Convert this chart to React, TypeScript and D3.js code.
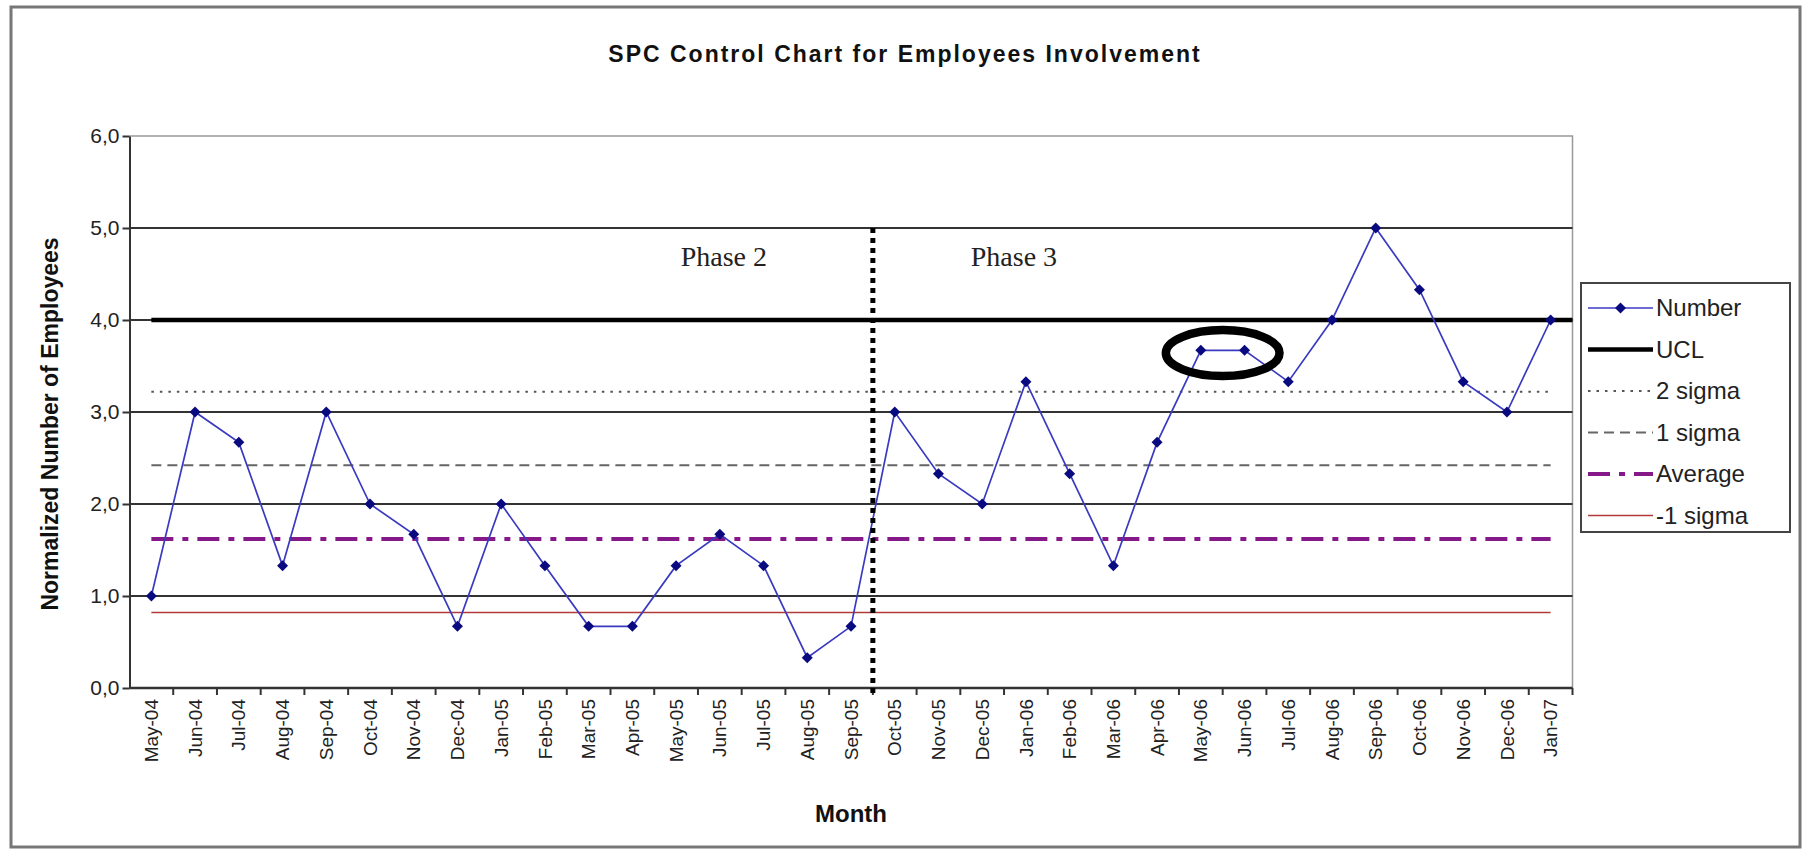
import React, { useRef, useEffect } from "react";
import * as d3 from "d3";

// chart data
const months = [
  "May-04", "Jun-04", "Jul-04", "Aug-04", "Sep-04", "Oct-04", "Nov-04", "Dec-04",
  "Jan-05", "Feb-05", "Mar-05", "Apr-05", "May-05", "Jun-05", "Jul-05", "Aug-05",
  "Sep-05", "Oct-05", "Nov-05", "Dec-05", "Jan-06", "Feb-06", "Mar-06", "Apr-06",
  "May-06", "Jun-06", "Jul-06", "Aug-06", "Sep-06", "Oct-06", "Nov-06", "Dec-06",
  "Jan-07",
];
const numberValues = [
  1.0, 3.0, 2.67, 1.33, 3.0, 2.0, 1.67, 0.67,
  2.0, 1.33, 0.67, 0.67, 1.33, 1.67, 1.33, 0.33,
  0.67, 3.0, 2.33, 2.0, 3.33, 2.33, 1.33, 2.67,
  3.67, 3.67, 3.33, 4.0, 5.0, 4.33, 3.33, 3.0,
  4.0,
];
const uclValue = 4.0;
const twoSigmaValue = 3.22;
const oneSigmaValue = 2.42;
const averageValue = 1.62;
const minusOneSigmaValue = 0.82;
const yTicks = [0, 1, 2, 3, 4, 5, 6];
const legendLabels = ["Number", "UCL", "2 sigma", "1 sigma", "Average", "-1 sigma"];
const phaseLabels = ["Phase 2", "Phase 3"];
const phaseAnchors = ["Jun-05", "Jan-06"];
const phaseBreakAfter = "Sep-05";
const circledMonths = ["May-06", "Jun-06"];

const width = 1813;
const height = 852;
const marginLeft = 129.5;
const marginRight = 240.5;
const marginTop = 136;
const marginBottom = 164;

const fontSans = "'Liberation Sans', Arial, sans-serif";

// styles for the horizontal limit lines, same order as legend after "Number"
const limitStyles = [
  { stroke: "#000", width: 4.5, dash: null },
  { stroke: "#555", width: 2, dash: "2.5 6" },
  { stroke: "#666", width: 2, dash: "10 6" },
  { stroke: "#86198a", width: 4, dash: "22 9 6 9" },
  { stroke: "#b23a3a", width: 1.5, dash: null },
];

export default function App() {
  const gx = useRef<SVGGElement>(null);
  const gy = useRef<SVGGElement>(null);

  const x = d3
    .scaleBand()
    .domain(months)
    .range([marginLeft, width - marginRight])
    .paddingInner(0)
    .paddingOuter(0);
  const bw = x.bandwidth();
  const cx = (m: string) => (x(m) as number) + bw / 2;

  const y = d3
    .scaleLinear()
    .domain([0, 6])
    .range([height - marginBottom, marginTop]);

  const line = d3
    .line<number>()
    .x((d, i) => cx(months[i]))
    .y((d) => y(d));

  const firstX = cx(months[0]);
  const lastX = cx(months[months.length - 1]);
  const plotRight = width - marginRight;
  const limits = [uclValue, twoSigmaValue, oneSigmaValue, averageValue, minusOneSigmaValue];

  // x axis labels
  useEffect(() => {
    const g = d3.select(gx.current);
    g.call(d3.axisBottom(x).tickSize(0).tickSizeOuter(0));
    g.select(".domain").remove();
    g.selectAll("text")
      .attr("transform", "rotate(-90)")
      .attr("text-anchor", "end")
      .attr("x", -11)
      .attr("y", 0)
      .attr("dy", "0.35em")
      .attr("font-size", 19)
      .attr("font-family", fontSans)
      .attr("fill", "#222");
  }, [x]);

  // y axis
  useEffect(() => {
    const g = d3.select(gy.current);
    g.call(
      d3
        .axisLeft(y)
        .tickValues(yTicks)
        .tickSize(7)
        .tickSizeOuter(0)
        .tickFormat((d) => (d as number).toFixed(1).replace(".", ","))
    );
    g.select(".domain").attr("stroke", "#333").attr("stroke-width", 2);
    g.selectAll(".tick line").attr("stroke", "#333").attr("stroke-width", 2);
    g.selectAll("text")
      .attr("font-size", 21)
      .attr("font-family", fontSans)
      .attr("fill", "#222")
      .attr("x", -10);
  }, [y]);

  const breakX = (x(phaseBreakAfter) as number) + bw;
  const ellX = (cx(circledMonths[0]) + cx(circledMonths[1])) / 2;

  const legX = 1581;
  const legY = 283;
  const legRowH = 41.5;

  return (
    <svg
      width={width}
      height={height}
      style={{ position: "absolute", left: 0, top: 0, background: "#fff" }}
    >
      {/* outer frame */}
      <rect x={11} y={7} width={1789} height={840} fill="none" stroke="#777" strokeWidth={3} />

      <text
        x={905}
        y={62}
        textAnchor="middle"
        fontFamily={fontSans}
        fontWeight="bold"
        fontSize={23}
        letterSpacing={2}
        fill="#111"
      >
        SPC Control Chart for Employees Involvement
      </text>

      {/* plot border (top/right) */}
      <path
        d={`M${marginLeft},${marginTop}H${plotRight}V${y(0)}`}
        fill="none"
        stroke="#999"
        strokeWidth={1.5}
      />

      {/* gridlines */}
      {yTicks.slice(1, -1).map((t) => (
        <line
          key={t}
          x1={marginLeft}
          x2={plotRight}
          y1={y(t)}
          y2={y(t)}
          stroke="#333"
          strokeWidth={1.8}
        />
      ))}

      {/* limit lines */}
      {limits.map((v, i) => (
        <line
          key={legendLabels[i + 1]}
          x1={firstX}
          x2={i === 0 ? plotRight : lastX}
          y1={y(v)}
          y2={y(v)}
          stroke={limitStyles[i].stroke}
          strokeWidth={limitStyles[i].width}
          strokeDasharray={limitStyles[i].dash ?? undefined}
        />
      ))}

      {/* phase labels */}
      {phaseLabels.map((p, i) => (
        <text
          key={p}
          x={cx(phaseAnchors[i]) + (i === 0 ? 4 : -12)}
          y={266}
          textAnchor="middle"
          fontFamily="'Liberation Serif', 'Times New Roman', serif"
          fontSize={28}
          fill="#222"
        >
          {p}
        </text>
      ))}

      {/* number series */}
      <path d={line(numberValues) ?? ""} fill="none" stroke="#3a3ac0" strokeWidth={1.7} />
      <g fill="#0a0a80">
        {numberValues.map((d, i) => (
          <path
            key={months[i]}
            d="M0,-5.5L5.5,0L0,5.5L-5.5,0Z"
            transform={`translate(${cx(months[i])},${y(d)})`}
          />
        ))}
      </g>

      {/* x axis line and ticks at band boundaries */}
      <line x1={marginLeft} x2={plotRight} y1={y(0)} y2={y(0)} stroke="#333" strokeWidth={2.5} />
      {months.map((m) => (
        <line
          key={m}
          x1={(x(m) as number) + bw}
          x2={(x(m) as number) + bw}
          y1={y(0)}
          y2={y(0) + 7}
          stroke="#333"
          strokeWidth={2}
        />
      ))}
      <g ref={gx} transform={`translate(0,${y(0)})`} />
      <g ref={gy} transform={`translate(${marginLeft},0)`} />

      {/* phase divider */}
      <line
        x1={breakX}
        x2={breakX}
        y1={y(5)}
        y2={y(0) + 8}
        stroke="#000"
        strokeWidth={5}
        strokeDasharray="5 5"
      />

      {/* highlight ellipse */}
      <ellipse
        cx={ellX}
        cy={y(3.64)}
        rx={bw * 1.3}
        ry={23}
        fill="none"
        stroke="#000"
        strokeWidth={8.5}
      />

      {/* axis titles */}
      <text
        transform={`translate(52,424) rotate(-90)`}
        textAnchor="middle"
        dominantBaseline="middle"
        fontFamily={fontSans}
        fontWeight="bold"
        fontSize={23}
        fill="#111"
      >
        Normalized Number of Employees
      </text>
      <text
        x={(marginLeft + plotRight) / 2}
        y={822}
        textAnchor="middle"
        fontFamily={fontSans}
        fontWeight="bold"
        fontSize={24}
        fill="#111"
      >
        Month
      </text>

      {/* legend */}
      <rect x={legX} y={legY} width={209} height={249} fill="#fff" stroke="#444" strokeWidth={2} />
      {legendLabels.map((l, i) => {
        const ly = legY + 25 + i * legRowH;
        const x1 = legX + 7;
        const x2 = legX + 72;
        const s = i === 0 ? null : limitStyles[i - 1];
        return (
          <g key={l}>
            {s ? (
              <line
                x1={x1}
                x2={x2}
                y1={ly}
                y2={ly}
                stroke={s.stroke}
                strokeWidth={s.width}
                strokeDasharray={s.dash ?? undefined}
              />
            ) : (
              <>
                <line x1={x1} x2={x2} y1={ly} y2={ly} stroke="#3a3ac0" strokeWidth={1.7} />
                <path
                  d="M0,-5.5L5.5,0L0,5.5L-5.5,0Z"
                  fill="#0a0a80"
                  transform={`translate(${(x1 + x2) / 2},${ly})`}
                />
              </>
            )}
            <text
              x={x2 + 3}
              y={ly}
              dy="0.35em"
              fontFamily={fontSans}
              fontSize={24}
              fill="#222"
            >
              {l}
            </text>
          </g>
        );
      })}
    </svg>
  );
}
